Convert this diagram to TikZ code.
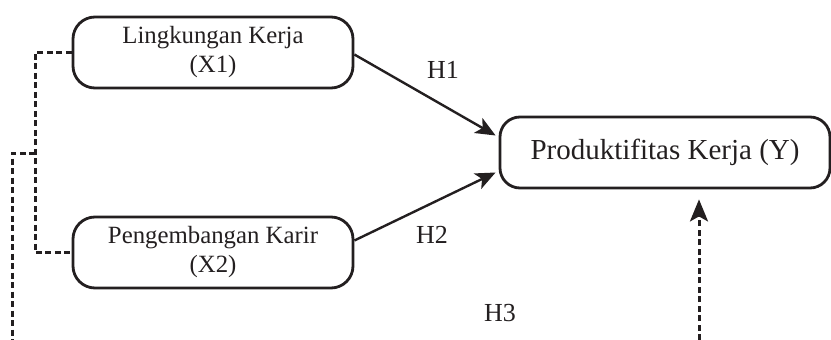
\documentclass[tikz,border=0pt]{standalone}
\usepackage{fontspec}
\setmainfont{Liberation Serif}
\usepackage{tikz}
\usetikzlibrary{arrows.meta}
\definecolor{ink}{RGB}{35,31,32}
\tikzset{>={Stealth[length=20pt,width=17pt,inset=5pt]}}
\tikzset{varbox/.style={draw=ink,line width=2.8pt,rounded corners=22pt,minimum height=71pt,align=center,text=ink}}
\tikzset{hlink/.style={draw=ink,line width=2.4pt,->}}
\tikzset{dashlink/.style={draw=ink,line width=3pt,dash pattern=on 6pt off 3.5pt}}

\begin{document}
\begin{tikzpicture}[x=1pt,y=-1pt]
    \useasboundingbox (0,0) rectangle (831,340);
      \node[varbox,minimum width=280pt,font=\fontsize{24.8}{29}\selectfont] (x1) at (213,52.5) {Lingkungan Kerja\\(X1)};
      \node[varbox,minimum width=280pt,font=\fontsize{24.8}{29}\selectfont] (x2) at (213,252.5) {Pengembangan Karir\\(X2)};
      \node[varbox,minimum width=330pt,rounded corners=20pt,font=\fontsize{29}{34}\selectfont] (y) at (665,152.5) {Produktifitas Kerja (Y)};
      \draw[hlink] ([yshift=-2pt]x1.east)--([xshift=-3pt,yshift=17pt]y.west);
      \draw[hlink] ([yshift=12pt]x2.east)--([xshift=-3pt,yshift=-20pt]y.west);
      \node[text=ink,font=\fontsize{26}{30}\selectfont] (h1) at (443,70) {H1};
      \node[text=ink,font=\fontsize{26}{30}\selectfont] (h2) at (432,235) {H2};
      \node[text=ink,font=\fontsize{26}{30}\selectfont] (h3) at (500,313) {H3};
      % moderating path, runs off the bottom edge
      \coordinate (jn) at (35,153);
      \coordinate (lft) at (12,340);
      \coordinate (rgt) at (699,340);
      \draw[dashlink] (x1.west)-|(jn)|-(x2.west);
      \draw[dashlink] (jn)-|(lft);
      \draw[dashlink,->,>={Stealth[length=22pt,width=18pt,inset=5pt]},shorten >=10pt] (rgt)--(rgt|-y.south);
     \end{tikzpicture}
\end{document}
